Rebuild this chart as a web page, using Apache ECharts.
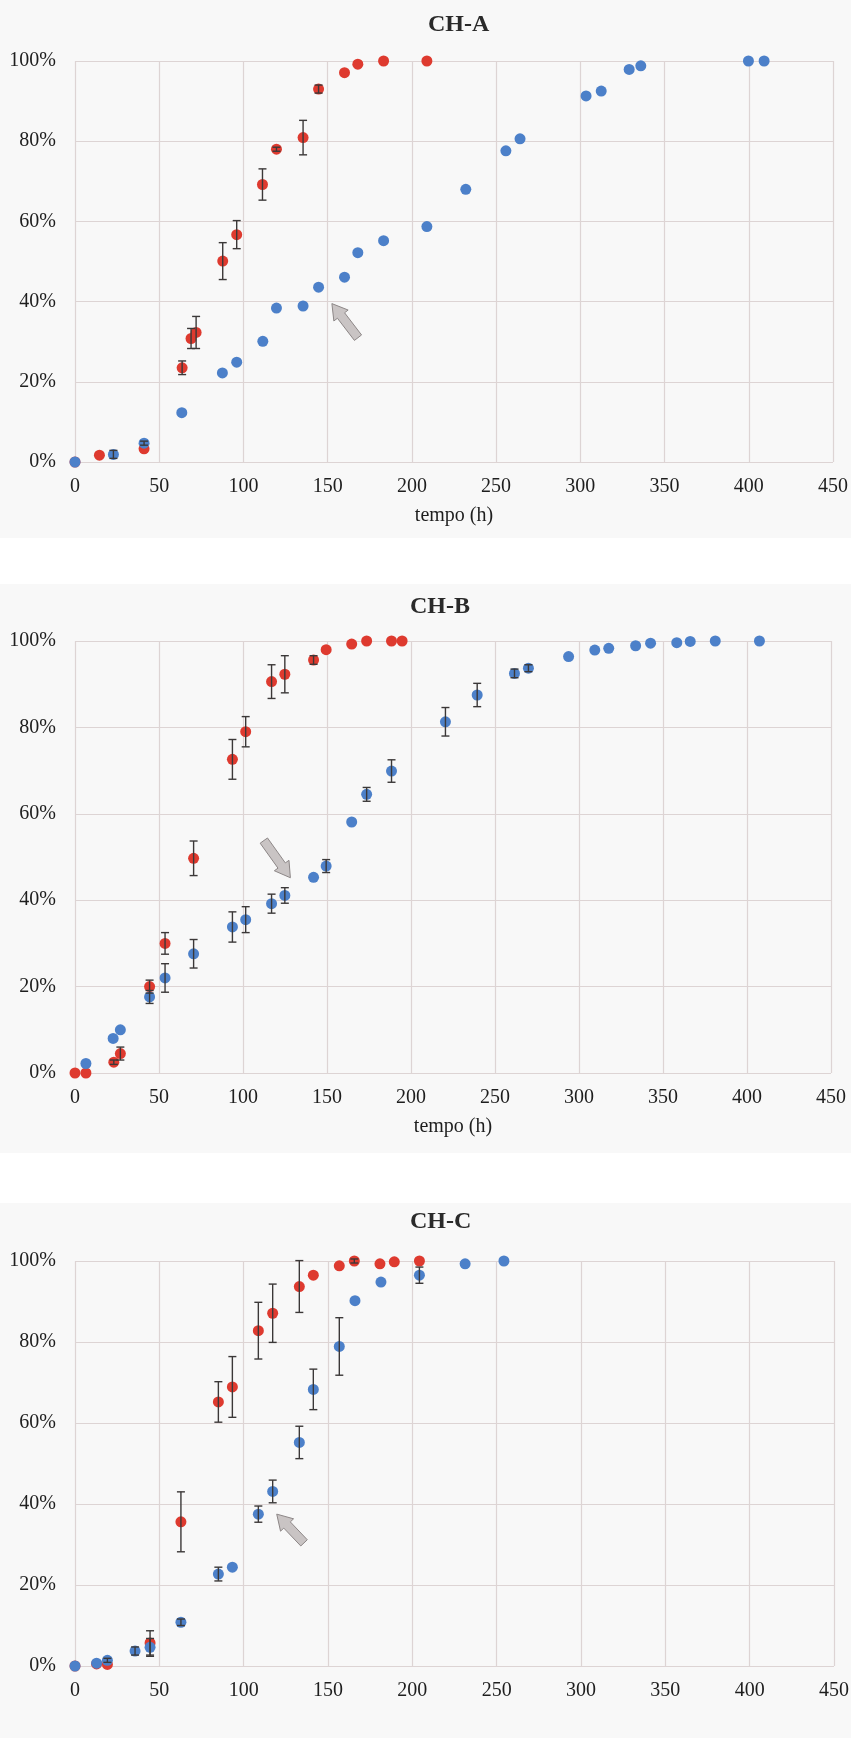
<!DOCTYPE html>
<html>
<head>
<meta charset="utf-8">
<script src="https://cdn.jsdelivr.net/npm/echarts@6/dist/echarts.min.js"></script>
<style>
  html, body { margin: 0; padding: 0; background: #ffffff; width: 851px; height: 1738px; overflow: hidden; }
  .panel { position: absolute; left: 0; width: 851px; background: #f8f8f8; }
</style>
</head>
<body>
<div id="pA" class="panel" style="top:0px;height:538px;"></div>
<div id="pB" class="panel" style="top:584px;height:569px;"></div>
<div id="pC" class="panel" style="top:1203px;height:535px;"></div>
<script>
// ---------- DATA ----------
const xTickValues = [0, 50, 100, 150, 200, 250, 300, 350, 400, 450];
const yTickValues = [0, 20, 40, 60, 80, 100];
const xAxisTitle = 'tempo (h)';
const titles = ['CH-A', 'CH-B', 'CH-C'];

// CH-A
const A_red_t = [0, 14.5, 41, 63.6, 68.9, 71.9, 87.7, 96, 111.3, 119.6, 135.4, 144.6, 160, 167.9, 183.2, 208.9];
const A_red_v = [0, 1.7, 3.3, 23.5, 30.8, 32.3, 50.1, 56.7, 69.2, 78.0, 80.9, 93.0, 97.1, 99.2, 100, 100];
const A_red_e = [0, 0, 0, 1.7, 2.5, 4.0, 4.6, 3.5, 3.9, 0.5, 4.3, 1.0, 0, 0, 0, 0];
const A_blue_t = [0, 22.8, 41, 63.4, 87.5, 96, 111.5, 119.6, 135.4, 144.6, 160, 167.9, 183.2, 208.9, 232, 255.8, 264.2, 303.4, 312.4, 329, 335.9, 399.8, 409.1];
const A_blue_v = [0, 1.9, 4.7, 12.3, 22.2, 24.9, 30.1, 38.4, 38.9, 43.6, 46.1, 52.2, 55.2, 58.7, 68.0, 77.6, 80.6, 91.3, 92.5, 97.9, 98.8, 100, 100];
const A_blue_e = [0, 1.0, 0.5, 0, 0, 0, 0, 0, 0, 0, 0, 0, 0, 0, 0, 0, 0, 0, 0, 0, 0, 0, 0];
const A_arrow = [168, 31.0, 152.5, 39.5];

// CH-B
const B_red_t = [0, 6.5, 23.1, 27.0, 44.4, 53.6, 70.6, 93.7, 101.6, 117, 124.9, 142, 149.5, 164.7, 173.6, 188.4, 194.7];
const B_red_v = [0, 0, 2.5, 4.5, 20.0, 30.0, 49.7, 72.6, 79.0, 90.6, 92.3, 95.6, 98.0, 99.3, 100, 100, 100];
const B_red_e = [0, 0, 0.5, 1.5, 1.5, 2.5, 4.0, 4.6, 3.5, 3.9, 4.3, 1.0, 0, 0, 0, 0, 0];
const B_blue_t = [6.5, 22.7, 27, 44.4, 53.6, 70.6, 93.7, 101.6, 117, 124.9, 142, 149.5, 164.7, 173.6, 188.4, 220.5, 239.4, 261.6, 269.9, 293.8, 309.4, 317.7, 333.7, 342.6, 358.2, 366.2, 381.1, 407.4];
const B_blue_v = [2.2, 8.0, 10.0, 17.6, 22.0, 27.6, 33.8, 35.5, 39.2, 41.1, 45.3, 47.9, 58.1, 64.5, 69.9, 81.3, 87.5, 92.5, 93.7, 96.4, 97.9, 98.3, 98.9, 99.5, 99.6, 99.9, 100, 100];
const B_blue_e = [0, 0, 0, 1.5, 3.3, 3.3, 3.5, 3.0, 2.2, 1.8, 0, 1.5, 0, 1.6, 2.6, 3.3, 2.7, 1.0, 0.8, 0, 0, 0, 0, 0, 0, 0, 0, 0];
const B_arrow = [112.4, 53.8, 128.2, 45.2];

// CH-C
const C_red_t = [0, 12.8, 19.2, 44.5, 62.8, 85, 93.3, 108.7, 117.2, 133, 141.3, 156.7, 165.6, 180.8, 189.3, 204.2];
const C_red_v = [0, 0.5, 0.4, 5.7, 35.6, 65.2, 68.9, 82.8, 87.1, 93.7, 96.5, 98.8, 100, 99.3, 99.8, 100];
const C_red_e = [0, 0, 0, 3.0, 7.4, 5.0, 7.5, 7.0, 7.2, 6.4, 0, 0, 0.5, 0, 0, 0];
const C_blue_t = [0, 12.8, 19.2, 35.6, 44.5, 62.8, 85, 93.3, 108.7, 117.2, 133, 141.3, 156.7, 166, 181.4, 204.2, 231.3, 254.3];
const C_blue_v = [0, 0.7, 1.4, 3.7, 4.6, 10.8, 22.7, 24.4, 37.5, 43.1, 55.2, 68.3, 78.9, 90.2, 94.8, 96.5, 99.3, 100];
const C_blue_e = [0, 0, 0.5, 1.0, 2.2, 0.8, 1.7, 0, 2.0, 2.8, 4.0, 5.0, 7.1, 0, 0, 2.0, 0, 0];
const C_arrow = [135.8, 30.4, 119.6, 37.5];

// ---------- STYLE ----------
const FONT = '"Liberation Serif", "DejaVu Serif", serif';
const RED = '#de3a2f';
const BLUE = '#4c80c9';
const GRID_COLOR = '#ddd4d4';
const ERR_COLOR = '#3b3838';
const TEXT_COLOR = '#1e1e1e';

function pts(t, v) { return t.map((x, i) => [x, v[i]]); }
function errs(t, v, e) {
  const out = [];
  t.forEach((x, i) => { if (e[i] > 0) out.push([x, v[i] - e[i], Math.min(v[i] + e[i], 101.5)]); });
  return out;
}

function errorSeries(data) {
  return {
    type: 'custom',
    z: 5,
    data: data,
    encode: { x: 0, y: [1, 2] },
    renderItem: function (params, api) {
      const x = api.value(0), lo = api.value(1), hi = api.value(2);
      const p1 = api.coord([x, lo]), p2 = api.coord([x, hi]);
      const w = 4;
      const st = { stroke: ERR_COLOR, lineWidth: 1.4 };
      return {
        type: 'group',
        children: [
          { type: 'line', shape: { x1: p1[0], y1: p1[1], x2: p2[0], y2: p2[1] }, style: st },
          { type: 'line', shape: { x1: p1[0] - w, y1: p1[1], x2: p1[0] + w, y2: p1[1] }, style: st },
          { type: 'line', shape: { x1: p2[0] - w, y1: p2[1], x2: p2[0] + w, y2: p2[1] }, style: st }
        ]
      };
    }
  };
}

function arrowSeries(a) {
  return {
    type: 'custom',
    z: 6,
    data: [a],
    encode: { x: [0, 2], y: [1, 3] },
    renderItem: function (params, api) {
      const tail = api.coord([api.value(0), api.value(1)]);
      const tip = api.coord([api.value(2), api.value(3)]);
      const dx = tip[0] - tail[0], dy = tip[1] - tail[1];
      const L = Math.sqrt(dx * dx + dy * dy);
      const ux = dx / L, uy = dy / L;
      const nx = -uy, ny = ux;
      const headLen = 15, s = 4.5, h = 9;
      const nk = [tip[0] - ux * headLen, tip[1] - uy * headLen];
      const points = [
        [tail[0] + nx * s, tail[1] + ny * s],
        [nk[0] + nx * s, nk[1] + ny * s],
        [nk[0] + nx * h, nk[1] + ny * h],
        [tip[0], tip[1]],
        [nk[0] - nx * h, nk[1] - ny * h],
        [nk[0] - nx * s, nk[1] - ny * s],
        [tail[0] - nx * s, tail[1] - ny * s]
      ];
      return { type: 'polygon', shape: { points: points }, style: { fill: '#c9c4c4', stroke: '#8c8686', lineWidth: 1 } };
    }
  };
}

function makeChart(id, cfg) {
  const chart = echarts.init(document.getElementById(id), null, { renderer: 'canvas' });
  const grid = Object.assign({ outerBoundsMode: 'none', containLabel: false }, cfg.grid);
  chart.setOption({
    backgroundColor: 'transparent',
    animation: false,
    title: {
      text: cfg.title,
      left: cfg.titleLeft,
      top: cfg.titleTop,
      textStyle: { fontFamily: FONT, fontSize: 24, fontWeight: 'bold', color: '#2a2a2a' }
    },
    grid: grid,
    xAxis: {
      type: 'value',
      min: xTickValues[0],
      max: xTickValues[xTickValues.length - 1],
      interval: xTickValues[1] - xTickValues[0],
      name: cfg.showName ? xAxisTitle : '',
      nameLocation: 'middle',
      nameGap: 44,
      nameTextStyle: { fontFamily: FONT, fontSize: 20, color: TEXT_COLOR },
      axisLine: { show: false },
      axisTick: { show: false },
      axisLabel: { fontFamily: FONT, fontSize: 20, color: TEXT_COLOR, margin: 15 },
      splitLine: { show: true, lineStyle: { color: GRID_COLOR, width: 1.2 } }
    },
    yAxis: {
      type: 'value',
      min: yTickValues[0],
      max: yTickValues[yTickValues.length - 1],
      interval: yTickValues[1] - yTickValues[0],
      axisLine: { show: false },
      axisTick: { show: false },
      axisLabel: { fontFamily: FONT, fontSize: 20, color: TEXT_COLOR, margin: 19, formatter: '{value}%' },
      splitLine: { show: true, lineStyle: { color: GRID_COLOR, width: 1.2 } }
    },
    series: [
      { type: 'scatter', z: 3, symbol: 'circle', symbolSize: 11, itemStyle: { color: RED, opacity: 1 }, data: pts(cfg.rt, cfg.rv), clip: false },
      { type: 'scatter', z: 4, symbol: 'circle', symbolSize: 11, itemStyle: { color: BLUE, opacity: 1 }, data: pts(cfg.bt, cfg.bv), clip: false },
      errorSeries(errs(cfg.rt, cfg.rv, cfg.re)),
      errorSeries(errs(cfg.bt, cfg.bv, cfg.be)),
      arrowSeries(cfg.arrow)
    ]
  });
}

makeChart('pA', {
  title: titles[0], titleLeft: 423, titleTop: 8,
  grid: { left: 75, right: 18, top: 61, bottom: 76 },
  showName: true,
  rt: A_red_t, rv: A_red_v, re: A_red_e,
  bt: A_blue_t, bv: A_blue_v, be: A_blue_e,
  arrow: A_arrow
});
makeChart('pB', {
  title: titles[1], titleLeft: 405, titleTop: 6,
  grid: { left: 75, right: 20, top: 57, bottom: 80 },
  showName: true,
  rt: B_red_t, rv: B_red_v, re: B_red_e,
  bt: B_blue_t, bv: B_blue_v, be: B_blue_e,
  arrow: B_arrow
});
makeChart('pC', {
  title: titles[2], titleLeft: 405, titleTop: 2,
  grid: { left: 75, right: 17, top: 58, bottom: 72 },
  showName: false,
  rt: C_red_t, rv: C_red_v, re: C_red_e,
  bt: C_blue_t, bv: C_blue_v, be: C_blue_e,
  arrow: C_arrow
});
</script>
</body>
</html>
